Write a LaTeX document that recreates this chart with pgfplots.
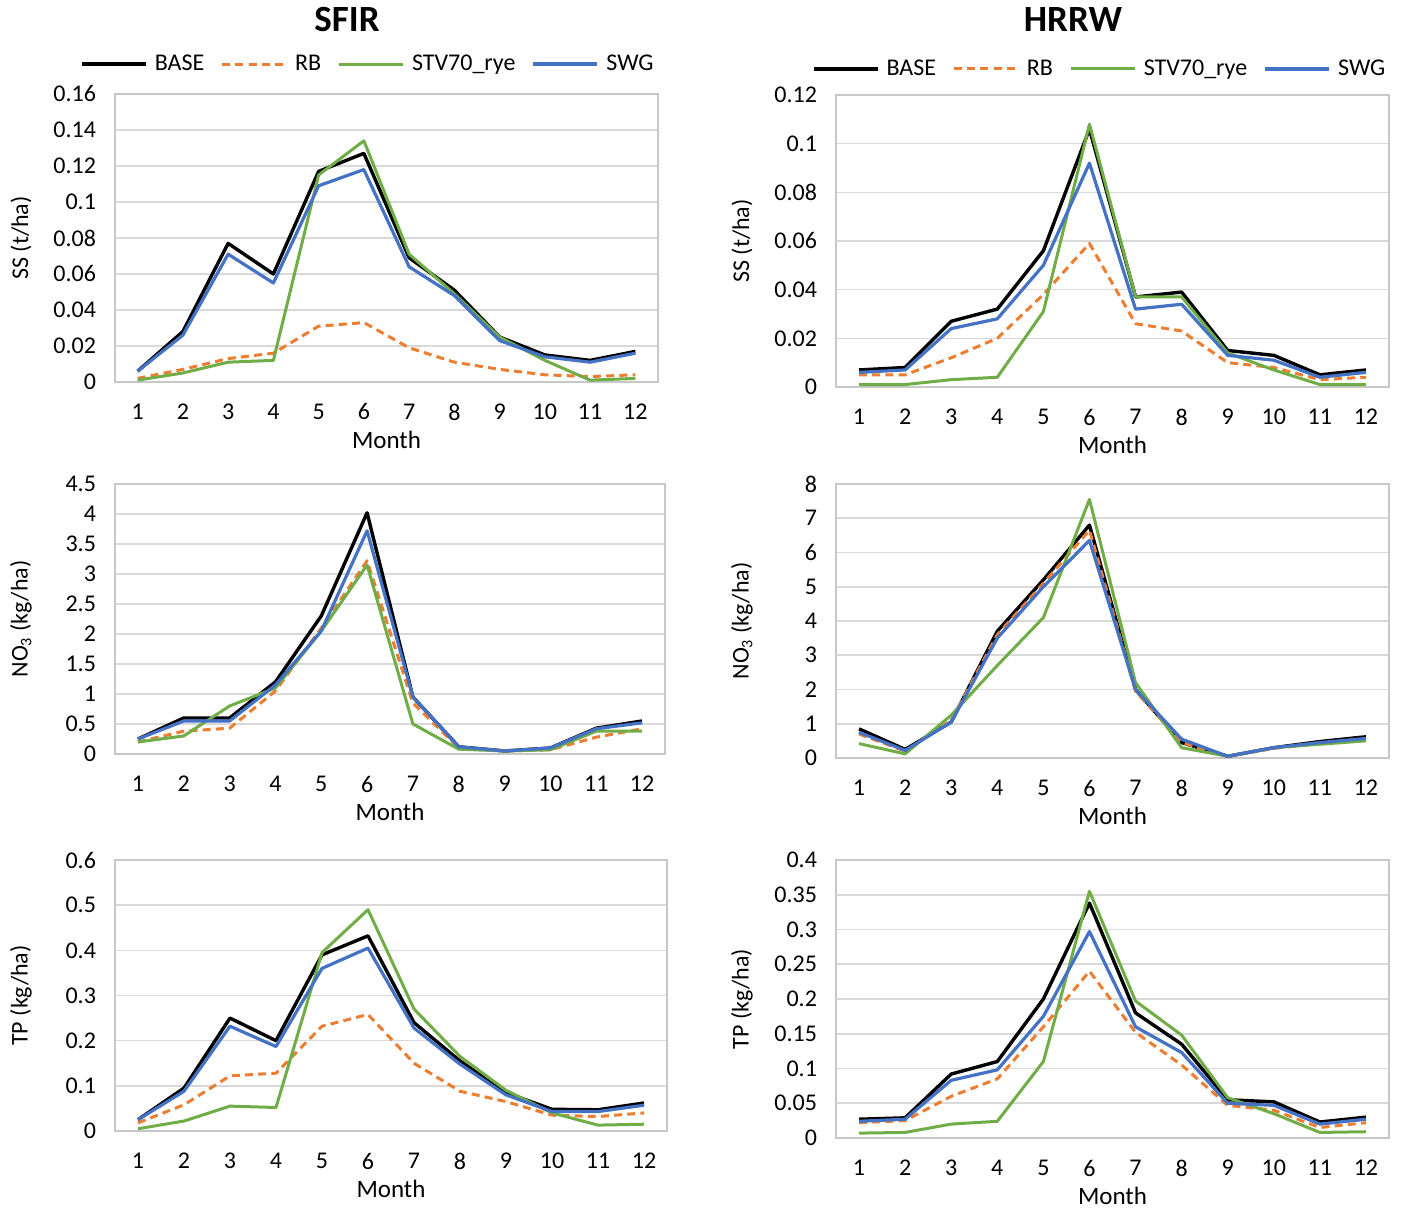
\documentclass[border=0pt]{standalone}
\usepackage{fontspec}
\setmainfont{Carlito}
\usepackage{pgfplots}
\pgfplotsset{compat=1.18}
\definecolor{cbase}{RGB}{0,0,0}
\definecolor{crb}{RGB}{237,125,49}
\definecolor{cstv}{RGB}{112,173,71}
\definecolor{cswg}{RGB}{68,114,196}
\definecolor{gridgray}{RGB}{217,217,217}
\definecolor{framegray}{RGB}{200,200,200}
\pgfplotsset{
  panel/.style={
    scale only axis, clip=false,
    xmin=0.5, xmax=12.5, ymin=0,
    xtick={1,2,3,4,5,6,7,8,9,10,11,12},
    xticklabels={1,2,3,4,5,6,7,8,9,10,11,12},
    tick style={draw=none},
    ymajorgrids, grid style={draw=gridgray, line width=0.8pt},
    axis line style={draw=framegray, line width=0.8pt},
    tick label style={font=\fontsize{12}{14}\selectfont},
    xticklabel style={anchor=center, yshift=-15pt},
    yticklabel style={anchor=east, xshift=-6pt},
    xlabel={Month},
    xlabel style={at={(axis description cs:0.5,0)}, anchor=center, yshift=-29pt, font=\fontsize{12.5}{15}\selectfont},
    ylabel style={at={(axis description cs:0,0.5)}, anchor=center, yshift=47pt, font=\fontsize{12}{14}\selectfont},
    legend columns=4,
    legend style={draw=none, fill=none, font=\fontsize{12}{14}\selectfont,
      /tikz/every odd column/.style={column sep=2.5pt},
      /tikz/every even column/.style={column sep=7pt},
      nodes={inner sep=1.2pt}},
    legend image code/.code={\draw[#1] (0pt,0pt) -- (32pt,0pt);},
  },
  sbase/.style={draw=cbase, line width=1.7pt, line join=round},
  srb/.style={draw=crb, line width=1.5pt, dash pattern=on 4pt off 2.6pt, line join=round},
  sstv/.style={draw=cstv, line width=1.5pt, line join=round},
  sswg/.style={draw=cswg, line width=1.6pt, line join=round},
}
\begin{document}
\begin{tikzpicture}
\path[use as bounding box] (0,0) rectangle (704.5pt,607pt);
\node[font=\fontsize{18.5}{22}\selectfont\bfseries] at (173.5pt,597pt) {SFIR};
\node[font=\fontsize{18.5}{22}\selectfont\bfseries] at (536.5pt,597pt) {HRRW};

% Panel 1: SFIR SS
\begin{axis}[panel, at={(57.5pt,416pt)}, anchor=south west, width=271.5pt, height=144pt,
  ymax=0.16, ytick={0,0.02,0.04,0.06,0.08,0.1,0.12,0.14,0.16},
  yticklabels={0,0.02,0.04,0.06,0.08,0.1,0.12,0.14,0.16},
  ylabel={SS (t/ha)},
  legend style={at={(axis description cs:0.466,1.104)}, anchor=center}]
\addplot[sbase] coordinates {(1,0.006)(2,0.028)(3,0.077)(4,0.060)(5,0.117)(6,0.127)(7,0.069)(8,0.051)(9,0.025)(10,0.015)(11,0.012)(12,0.017)};
\addplot[srb] coordinates {(1,0.002)(2,0.007)(3,0.013)(4,0.016)(5,0.031)(6,0.033)(7,0.019)(8,0.011)(9,0.007)(10,0.004)(11,0.003)(12,0.004)};
\addplot[sstv] coordinates {(1,0.001)(2,0.005)(3,0.011)(4,0.012)(5,0.115)(6,0.134)(7,0.071)(8,0.049)(9,0.025)(10,0.012)(11,0.001)(12,0.002)};
\addplot[sswg] coordinates {(1,0.006)(2,0.026)(3,0.071)(4,0.055)(5,0.109)(6,0.118)(7,0.064)(8,0.048)(9,0.023)(10,0.014)(11,0.011)(12,0.016)};
\legend{BASE,RB,STV70\_rye,SWG}
\end{axis}

% Panel 2: HRRW SS
\begin{axis}[panel, at={(418pt,413.5pt)}, anchor=south west, width=276.5pt, height=146pt,
  ymax=0.12, ytick={0,0.02,0.04,0.06,0.08,0.1,0.12},
  yticklabels={0,0.02,0.04,0.06,0.08,0.1,0.12},
  ylabel={SS (t/ha)},
  legend style={at={(axis description cs:0.477,1.089)}, anchor=center}]
\addplot[sbase] coordinates {(1,0.007)(2,0.008)(3,0.027)(4,0.032)(5,0.056)(6,0.106)(7,0.037)(8,0.039)(9,0.015)(10,0.013)(11,0.005)(12,0.007)};
\addplot[srb] coordinates {(1,0.005)(2,0.005)(3,0.012)(4,0.020)(5,0.038)(6,0.059)(7,0.026)(8,0.023)(9,0.010)(10,0.008)(11,0.003)(12,0.004)};
\addplot[sstv] coordinates {(1,0.001)(2,0.001)(3,0.003)(4,0.004)(5,0.031)(6,0.108)(7,0.037)(8,0.037)(9,0.014)(10,0.007)(11,0.001)(12,0.001)};
\addplot[sswg] coordinates {(1,0.006)(2,0.007)(3,0.024)(4,0.028)(5,0.050)(6,0.092)(7,0.032)(8,0.034)(9,0.013)(10,0.011)(11,0.004)(12,0.006)};
\legend{BASE,RB,STV70\_rye,SWG}
\end{axis}

% Panel 3: SFIR NO3
\begin{axis}[panel, at={(57.5pt,230pt)}, anchor=south west, width=275pt, height=135pt,
  ymax=4.5, ytick={0,0.5,1,1.5,2,2.5,3,3.5,4,4.5},
  yticklabels={0,0.5,1,1.5,2,2.5,3,3.5,4,4.5},
  ylabel={NO\textsubscript{3} (kg/ha)}]
\addplot[sbase] coordinates {(1,0.25)(2,0.60)(3,0.60)(4,1.20)(5,2.30)(6,4.02)(7,0.95)(8,0.12)(9,0.05)(10,0.10)(11,0.43)(12,0.55)};
\addplot[srb] coordinates {(1,0.20)(2,0.38)(3,0.43)(4,1.05)(5,2.10)(6,3.22)(7,0.85)(8,0.10)(9,0.05)(10,0.07)(11,0.28)(12,0.42)};
\addplot[sstv] coordinates {(1,0.20)(2,0.30)(3,0.80)(4,1.10)(5,2.05)(6,3.15)(7,0.50)(8,0.08)(9,0.05)(10,0.07)(11,0.38)(12,0.38)};
\addplot[sswg] coordinates {(1,0.25)(2,0.55)(3,0.55)(4,1.15)(5,2.05)(6,3.72)(7,0.95)(8,0.12)(9,0.05)(10,0.10)(11,0.42)(12,0.52)};
\end{axis}

% Panel 4: HRRW NO3
\begin{axis}[panel, at={(418pt,228pt)}, anchor=south west, width=276.5pt, height=137pt,
  ymax=8, ytick={0,1,2,3,4,5,6,7,8},
  yticklabels={0,1,2,3,4,5,6,7,8},
  ylabel={NO\textsubscript{3} (kg/ha)}]
\addplot[sbase] coordinates {(1,0.85)(2,0.25)(3,1.05)(4,3.70)(5,5.20)(6,6.80)(7,2.00)(8,0.45)(9,0.05)(10,0.30)(11,0.48)(12,0.62)};
\addplot[srb] coordinates {(1,0.70)(2,0.20)(3,1.10)(4,3.60)(5,5.10)(6,6.65)(7,1.95)(8,0.45)(9,0.05)(10,0.28)(11,0.42)(12,0.55)};
\addplot[sstv] coordinates {(1,0.42)(2,0.12)(3,1.25)(4,2.70)(5,4.10)(6,7.55)(7,2.20)(8,0.30)(9,0.05)(10,0.30)(11,0.40)(12,0.50)};
\addplot[sswg] coordinates {(1,0.75)(2,0.22)(3,1.05)(4,3.50)(5,5.00)(6,6.35)(7,2.00)(8,0.55)(9,0.05)(10,0.30)(11,0.45)(12,0.57)};
\end{axis}

% Panel 5: SFIR TP
\begin{axis}[panel, at={(57.5pt,41.5pt)}, anchor=south west, width=276pt, height=135.5pt,
  ymax=0.6, ytick={0,0.1,0.2,0.3,0.4,0.5,0.6},
  yticklabels={0,0.1,0.2,0.3,0.4,0.5,0.6},
  ylabel={TP (kg/ha)}]
\addplot[sbase] coordinates {(1,0.025)(2,0.095)(3,0.250)(4,0.200)(5,0.390)(6,0.432)(7,0.240)(8,0.155)(9,0.085)(10,0.048)(11,0.047)(12,0.062)};
\addplot[srb] coordinates {(1,0.018)(2,0.058)(3,0.122)(4,0.128)(5,0.232)(6,0.258)(7,0.150)(8,0.088)(9,0.065)(10,0.035)(11,0.032)(12,0.040)};
\addplot[sstv] coordinates {(1,0.005)(2,0.022)(3,0.055)(4,0.052)(5,0.395)(6,0.490)(7,0.270)(8,0.165)(9,0.090)(10,0.040)(11,0.013)(12,0.015)};
\addplot[sswg] coordinates {(1,0.025)(2,0.088)(3,0.232)(4,0.187)(5,0.360)(6,0.405)(7,0.228)(8,0.148)(9,0.080)(10,0.043)(11,0.043)(12,0.057)};
\end{axis}

% Panel 6: HRRW TP
\begin{axis}[panel, at={(418pt,38pt)}, anchor=south west, width=276.5pt, height=139pt,
  ymax=0.4, ytick={0,0.05,0.1,0.15,0.2,0.25,0.3,0.35,0.4},
  yticklabels={0,0.05,0.1,0.15,0.2,0.25,0.3,0.35,0.4},
  ylabel={TP (kg/ha)}]
\addplot[sbase] coordinates {(1,0.027)(2,0.029)(3,0.092)(4,0.110)(5,0.200)(6,0.338)(7,0.180)(8,0.135)(9,0.055)(10,0.052)(11,0.023)(12,0.030)};
\addplot[srb] coordinates {(1,0.022)(2,0.025)(3,0.060)(4,0.085)(5,0.160)(6,0.240)(7,0.152)(8,0.105)(9,0.047)(10,0.040)(11,0.015)(12,0.022)};
\addplot[sstv] coordinates {(1,0.007)(2,0.008)(3,0.020)(4,0.024)(5,0.110)(6,0.355)(7,0.197)(8,0.148)(9,0.058)(10,0.035)(11,0.008)(12,0.009)};
\addplot[sswg] coordinates {(1,0.024)(2,0.027)(3,0.083)(4,0.098)(5,0.175)(6,0.297)(7,0.160)(8,0.123)(9,0.050)(10,0.047)(11,0.020)(12,0.027)};
\end{axis}
\end{tikzpicture}
\end{document}
